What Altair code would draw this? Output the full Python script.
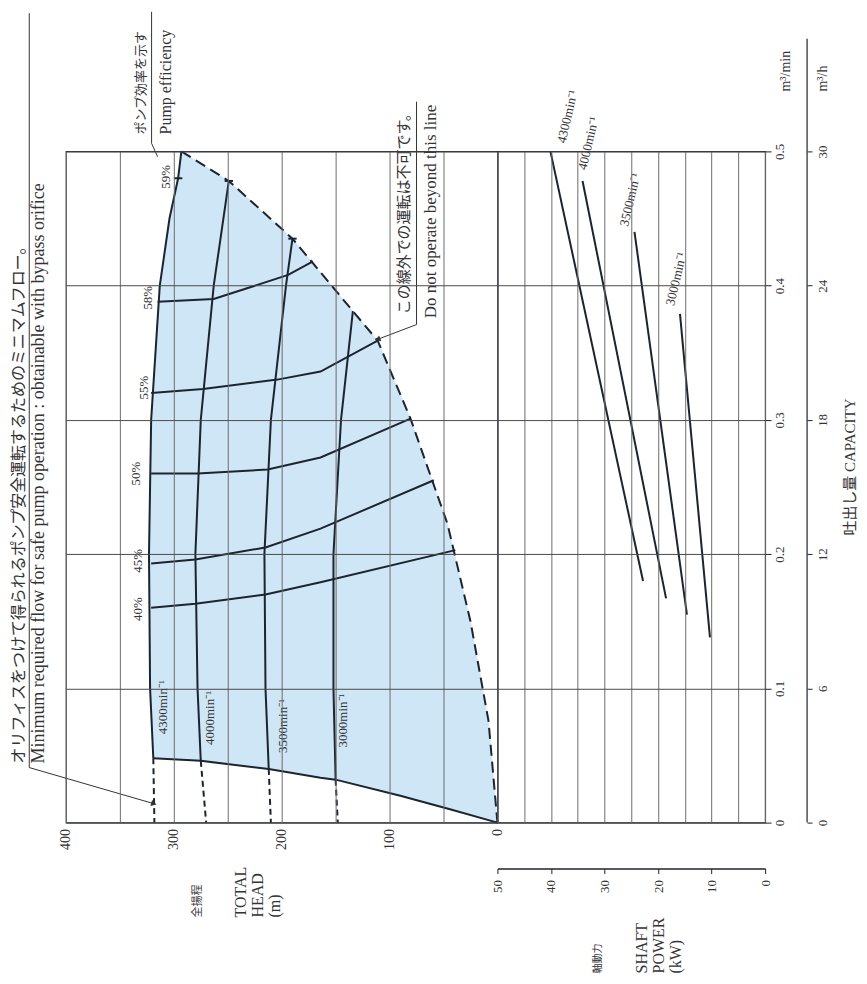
import altair as alt
import pandas as pd

# ---------------- data (capacity m3/min, total head m, shaft power kW) ----------------
speeds = ["4300", "4000", "3500", "3000"]
speed_labels = ["4300min⁻¹", "4000min⁻¹", "3500min⁻¹", "3000min⁻¹"]

q_4300 = [0.048, 0.10, 0.20, 0.30, 0.40, 0.45, 0.48, 0.50]
h_4300 = [319, 322, 323, 321, 313, 304, 296, 293]
q_4000 = [0.046, 0.10, 0.20, 0.30, 0.40, 0.478]
h_4000 = [275, 278, 280, 275, 263, 249]
q_3500 = [0.040, 0.10, 0.20, 0.30, 0.40, 0.435]
h_3500 = [212, 215, 216, 210, 196, 190]
q_3000 = [0.032, 0.10, 0.20, 0.30, 0.381]
h_3000 = [150, 152, 152, 145, 134]
shutoff_head = [318, 270, 210, 148]

# boundary "do not operate beyond this line" (dashed)
q_max = [0.50, 0.478, 0.435, 0.381, 0.359, 0.301, 0.2225, 0.150, 0.076, 0.0]
h_max = [293, 249, 190, 134, 111, 80.6, 46.3, 25, 8.3, 0]
# minimum flow line
q_min = [0.048, 0.046, 0.040, 0.0335, 0.032, 0.020, 0.010, 0.0]
h_min = [319, 275, 212, 164, 150, 90, 44, 0]

# iso-efficiency curves
eff_names = ["58%", "55%", "50%", "45%", "40%"]
q_e58 = [0.388, 0.390, 0.408, 0.418]
h_e58 = [315, 263, 194, 171]
q_e55 = [0.320, 0.323, 0.330, 0.336, 0.359]
h_e55 = [321, 273, 204, 164, 111]
q_e50 = [0.260, 0.260, 0.263, 0.272, 0.301]
h_e50 = [321, 278, 213, 164, 80.6]
q_e45 = [0.193, 0.196, 0.205, 0.219, 0.255]
h_e45 = [321, 280, 215, 164, 59]
q_e40 = [0.160, 0.163, 0.170, 0.179, 0.203]
h_e40 = [321, 280, 215, 164, 39]

# best efficiency (59%) markers
q_bep = [0.480, 0.478, 0.435]
h_bep = [296, 249, 190]

# shaft power lines
pq_4300 = [0.180, 0.500]
pw_4300 = [22.8, 40.1]
pq_4000 = [0.167, 0.478]
pw_4000 = [18.5, 34.1]
pq_3500 = [0.155, 0.440]
pw_3500 = [14.6, 24.4]
pq_3000 = [0.138, 0.379]
pw_3000 = [10.3, 15.9]

# label anchor positions (data units)
head_lab_h = [310, 266, 199, 143]
head_lab_q = [0.086, 0.078, 0.072, 0.076]
eff_lab_txt = ["59%", "58%", "55%", "50%", "45%", "40%"]
eff_lab_h = [307, 324, 328, 335, 333, 333]
eff_lab_q = [0.481, 0.391, 0.324, 0.260, 0.195, 0.159]
pow_lab_p = [36.9, 33.0, 25.2, 16.6]
pow_lab_q = [0.526, 0.506, 0.464, 0.405]

head_ticks = [0, 50, 100, 150, 200, 250, 300, 350, 400]
q_ticks = [0, 0.1, 0.2, 0.3, 0.4, 0.5]
pow_grid = [0, 5, 10, 15, 20, 25, 30, 35, 40, 45, 50]
pow_ticks = [0, 10, 20, 30, 40, 50]
qh_ticks = [0, 6, 12, 18, 24, 30]

# ---------------- styling ----------------
FONT = "Liberation Serif, Noto Sans CJK JP"
INK = "#1c2430"
TXT = "#333333"
GRIDC = "#6c6c6c"
BLUE = "#cfe6f6"
W_HEAD, W_POW, HGT = 432, 268, 672

# ---------------- tables ----------------
def rows(key, groups):
    out = []
    for name, qs, vs, col in groups:
        for i, (q, v) in enumerate(zip(qs, vs)):
            out.append({key: name, "q": q, col: v, "o": i})
    return pd.DataFrame(out)

curves = rows("speed", [(s, q, h, "h") for s, q, h in
                        zip(speeds, [q_4300, q_4000, q_3500, q_3000], [h_4300, h_4000, h_3500, h_3000])])
ext = []
for s, q, h, h0 in zip(speeds, [q_4300, q_4000, q_3500, q_3000], [h_4300, h_4000, h_3500, h_3000], shutoff_head):
    ext += [{"speed": s, "q": q[0], "h": h[0], "o": 0}, {"speed": s, "q": 0.0, "h": h0, "o": 1}]
ext = pd.DataFrame(ext)
effs = rows("eff", [(n, q, h, "h") for n, q, h in
                    zip(eff_names, [q_e58, q_e55, q_e50, q_e45, q_e40], [h_e58, h_e55, h_e50, h_e45, h_e40])])
maxline = pd.DataFrame({"q": q_max, "h": h_max, "o": range(len(q_max))})
minline = pd.DataFrame({"q": q_min, "h": h_min, "o": range(len(q_min))})
poly_q = q_4300 + q_max[1:] + q_min[::-1][1:]
poly_h = h_4300 + h_max[1:] + h_min[::-1][1:]
poly = pd.DataFrame({"q": poly_q, "h": poly_h, "o": range(len(poly_q))})
bep = pd.DataFrame({"q": q_bep, "h": h_bep})
power = rows("speed", [(s, q, p, "p") for s, q, p in
                       zip(speeds, [pq_4300, pq_4000, pq_3500, pq_3000], [pw_4300, pw_4000, pw_3500, pw_3000])])
head_labels = pd.DataFrame({"h": head_lab_h, "q": head_lab_q, "t": speed_labels})
eff_labels = pd.DataFrame({"h": eff_lab_h, "q": eff_lab_q, "t": eff_lab_txt})
pow_labels = pd.DataFrame({"p": pow_lab_p, "q": pow_lab_q, "t": speed_labels})

HS = alt.Scale(domain=[0, 400], reverse=True)
QS = alt.Scale(domain=[0, 0.5])
PS = alt.Scale(domain=[0, 50], reverse=True)

head_axis = alt.Axis(values=head_ticks, labelExpr="datum.value % 100 == 0 ? datum.label : ''",
                     grid=True, gridColor=GRIDC, gridWidth=1, ticks=False, domain=False,
                     labelAngle=270, labelAlign="right", labelBaseline="middle", labelPadding=6,
                     labelFont=FONT, labelFontSize=14, labelColor=TXT, labelFlush=False,
                     labelOverlap=False, title=None, zindex=1)
q_axis_left = alt.Axis(values=q_ticks, labels=False, ticks=False, domain=False, grid=True,
                       gridColor="#4a4a4a", gridWidth=1, title=None, zindex=1)

def hx():
    return alt.X("h:Q", scale=HS, axis=head_axis)

def qy():
    return alt.Y("q:Q", scale=QS, axis=q_axis_left)

fill = alt.Chart(poly).mark_line(fill=BLUE, stroke=BLUE, strokeWidth=0.5).encode(
    x=hx(), y=qy(), order="o:Q")
curve_lines = alt.Chart(curves).mark_line(color=INK, strokeWidth=2).encode(
    x=hx(), y=qy(), detail="speed:N", order="o:Q")
ext_lines = alt.Chart(ext).mark_line(color=INK, strokeWidth=2, strokeDash=[6, 4]).encode(
    x=hx(), y=qy(), detail="speed:N", order="o:Q")
max_line = alt.Chart(maxline).mark_line(color=INK, strokeWidth=2, strokeDash=[11, 6]).encode(
    x=hx(), y=qy(), order="o:Q")
min_line = alt.Chart(minline).mark_line(color=INK, strokeWidth=2).encode(
    x=hx(), y=qy(), order="o:Q")
eff_lines = alt.Chart(effs).mark_line(color=INK, strokeWidth=2).encode(
    x=hx(), y=qy(), detail="eff:N", order="o:Q")
bep_marks = alt.Chart(bep).mark_point(shape="M-1,0L1,0", size=70, strokeWidth=2, color=INK, opacity=1).encode(
    x=hx(), y=qy())
head_txt = alt.Chart(head_labels).mark_text(angle=270, align="center", baseline="middle", font=FONT,
                                             fontSize=13, color=TXT).encode(x=hx(), y=qy(), text="t:N")
eff_txt = alt.Chart(eff_labels).mark_text(angle=270, align="center", baseline="middle", font=FONT,
                                           fontSize=13, color=TXT).encode(x=hx(), y=qy(), text="t:N")

# annotations in the head panel
ann_left = pd.DataFrame({
    "h": [443.5, 424.5, 330, 307.4, 87, 62],
    "q": [0.044, 0.044, 0.5126, 0.5126, 0.3787, 0.3757],
    "t": ["オリフィスをつけて得られるポンプ安全運転するためのミニマムフロー。",
          "Minimum required flow for safe pump operation : obtainable with bypass orifice",
          "ポンプ効率を示す", "Pump efficiency",
          "この線外での運転は不可です。", "Do not operate beyond this line"],
    "s": [16, 18, 13, 16, 15, 17]})
ann_txt = alt.Chart(ann_left).mark_text(angle=270, align="left", baseline="middle", font=FONT,
                                         color=TXT).encode(
    x=hx(), y=qy(), text="t:N", size=alt.Size("s:Q", scale=None, legend=None))
leaders = pd.DataFrame({
    "g": ["a"] * 3 + ["b"] * 3 + ["c"] * 3,
    "h": [320.6, 320.6, 315, 75, 75, 111, 434, 434, 318.5],
    "q": [0.604, 0.506, 0.496, 0.537, 0.371, 0.360, 0.603, 0.041, 0.0141],
    "o": [0, 1, 2] * 3})
leader_lines = alt.Chart(leaders).mark_line(color=TXT, strokeWidth=1).encode(
    x=hx(), y=qy(), detail="g:N", order="o:Q")
arrows = pd.DataFrame({"h": [318.5, 111], "q": [0.0141, 0.360], "a": [16, 159]})
arrow_marks = alt.Chart(arrows).mark_point(shape="triangle-right", filled=True, size=40, color=TXT,
                                           opacity=1).encode(x=hx(), y=qy(), angle=alt.Angle("a:Q", scale=None))
head_title_en = pd.DataFrame({"h": [245], "q": [-0.0707], "t": ["TOTAL\nHEAD\n(m)"]})
head_title_jp = pd.DataFrame({"h": [277.8], "q": [-0.0707], "t": ["全揚程"]})
head_title_txt = alt.Chart(head_title_en).mark_text(angle=270, align="left", baseline="top", font=FONT,
                                                    fontSize=16, lineHeight=17, lineBreak="\n",
                                                    color=TXT).encode(x=hx(), y=qy(), text="t:N")
head_title_jp_txt = alt.Chart(head_title_jp).mark_text(angle=270, align="left", baseline="middle", font=FONT,
                                                       fontSize=11, color=TXT).encode(x=hx(), y=qy(), text="t:N")

left = alt.layer(fill, curve_lines, ext_lines, max_line, min_line, eff_lines, bep_marks,
                 head_txt, eff_txt, ann_txt, leader_lines, arrow_marks, head_title_txt,
                 head_title_jp_txt).properties(width=W_HEAD, height=HGT)

# ---------------- power panel ----------------
pow_grid_axis = alt.Axis(orient="bottom", values=pow_grid, grid=True, gridColor=GRIDC, labels=False,
                         ticks=False, domain=False, title=None, zindex=1)
q_axis_right = alt.Axis(orient="right", values=q_ticks, grid=True, gridColor="#4a4a4a", ticks=True,
                        tickSize=6, tickColor=INK, domain=False, labelAngle=270, labelAlign="center",
                        labelBaseline="middle", labelPadding=8, labelFont=FONT, labelFontSize=13,
                        labelColor=TXT, labelFlush=False, labelOverlap=False,
                        labelExpr="datum.value == 0 ? '0' : format(datum.value, '.1f')", title=None, zindex=1)

def px():
    return alt.X("p:Q", scale=PS, axis=pow_grid_axis)

def qyr():
    return alt.Y("q:Q", scale=QS, axis=q_axis_right)

pow_lines = alt.Chart(power).mark_line(color=INK, strokeWidth=2).encode(
    x=px(), y=qyr(), detail="speed:N", order="o:Q")
pow_txt = alt.Chart(pow_labels).mark_text(angle=283, align="center", baseline="middle", font=FONT,
                                          fontSize=13, color=TXT).encode(x=px(), y=qyr(), text="t:N")
units = pd.DataFrame({"p": [-3.9, -10.9], "q": [0.5446, 0.5446], "t": ["m³/min", "m³/h"]})
unit_txt = alt.Chart(units).mark_text(angle=270, align="left", baseline="middle", font=FONT,
                                      fontSize=14, color=TXT).encode(x=px(), y=qyr(), text="t:N")
cap = pd.DataFrame({"p": [-15.86], "q": [0.2649], "t": ["吐出し量  CAPACITY"]})
cap_txt = alt.Chart(cap).mark_text(angle=270, align="center", baseline="middle", font=FONT,
                                   fontSize=15, color=TXT).encode(x=px(), y=qyr(), text="t:N")
pow_title_en = pd.DataFrame({"p": [24.4], "q": [-0.1124], "t": ["SHAFT\nPOWER\n(kW)"]})
pow_title_jp = pd.DataFrame({"p": [31.2], "q": [-0.1124], "t": ["軸動力"]})
pow_title_txt = alt.Chart(pow_title_en).mark_text(angle=270, align="left", baseline="top", font=FONT,
                                                  fontSize=16, lineHeight=17, lineBreak="\n",
                                                  color=TXT).encode(x=px(), y=qyr(), text="t:N")
pow_title_jp_txt = alt.Chart(pow_title_jp).mark_text(angle=270, align="left", baseline="middle", font=FONT,
                                                     fontSize=10, color=TXT).encode(x=px(), y=qyr(), text="t:N")

right_main = alt.layer(pow_lines, pow_txt, unit_txt, cap_txt, pow_title_txt, pow_title_jp_txt)

qh_axis_line = pd.DataFrame({"p": [-7.84], "qh": [0.0], "qh2": [35.04]})
pow_axis = alt.Axis(orient="bottom", offset=46, values=pow_ticks, domain=True, domainColor=INK,
                    domainWidth=1.5, ticks=True, tickSize=5, tickColor=INK, grid=False,
                    labelAngle=270, labelAlign="right", labelBaseline="middle", labelPadding=6,
                    labelFont=FONT, labelFontSize=13, labelColor=TXT, labelFlush=False,
                    labelOverlap=False, title=None)
qh_axis = alt.Axis(orient="right", offset=42, values=qh_ticks, domain=False, ticks=True, tickSize=5,
                   tickColor=INK, grid=False, labelAngle=270, labelAlign="center", labelBaseline="middle",
                   labelPadding=10, labelFont=FONT, labelFontSize=13, labelColor=TXT,
                   labelFlush=False, labelOverlap=False, title=None)
right_axes = alt.Chart(qh_axis_line).mark_rule(color=INK, strokeWidth=1.2).encode(
    x=alt.X("p:Q", scale=PS, axis=pow_axis),
    y=alt.Y("qh:Q", scale=alt.Scale(domain=[0, 30]), axis=qh_axis),
    y2="qh2:Q")

right = alt.layer(right_main, right_axes).resolve_scale(y="independent").resolve_axis(
    x="independent").properties(width=W_POW, height=HGT)

chart = alt.hconcat(left, right, spacing=0, bounds="flush").properties(
    padding={"left": 2, "top": 0, "right": 0, "bottom": 0}
).configure_view(stroke=INK, strokeWidth=1.2)

chart.save("out.html", embed_options={"renderer": "svg", "actions": False})
